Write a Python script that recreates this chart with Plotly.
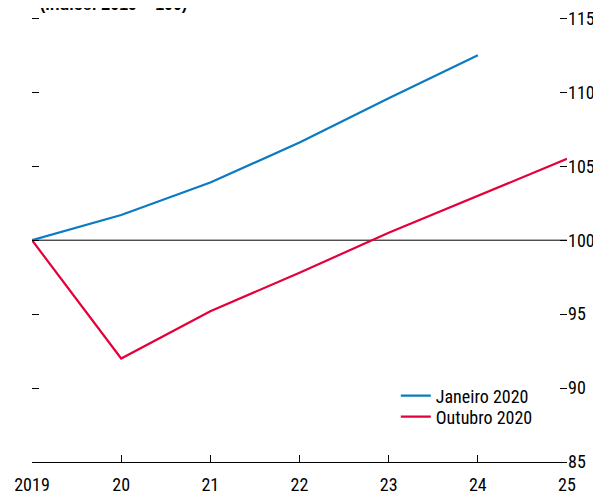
import plotly.graph_objects as go

years = [2019, 2020, 2021, 2022, 2023, 2024, 2025]
tick_labels = ["2019", "20", "21", "22", "23", "24", "25"]
jan_years = [2019, 2020, 2021, 2022, 2023, 2024]
jan_values = [100, 101.7, 103.9, 106.6, 109.6, 112.5]
out_years = [2019, 2020, 2021, 2022, 2023, 2024, 2025]
out_values = [100, 92.0, 95.2, 97.8, 100.5, 103.0, 105.5]
y_ticks = [85, 90, 95, 100, 105, 110, 115]

FONT = "Liberation Sans Narrow, Arial Narrow, Roboto Condensed, Liberation Sans, sans-serif"
TITLE_FONT = "Liberation Sans, Arial, sans-serif"
BLUE = "#0A7BC1"
RED = "#E4003A"

fig = go.Figure()
fig.add_trace(go.Scatter(x=jan_years, y=jan_values, mode="lines", name="Janeiro 2020",
                         line=dict(color=BLUE, width=2.2), legend="legend"))
fig.add_trace(go.Scatter(x=out_years, y=out_values, mode="lines", name="Outubro 2020",
                         line=dict(color=RED, width=2.2), legend="legend2"))
# dummy trace to activate left axis
fig.add_trace(go.Scatter(x=[years[0]], y=[100], yaxis="y2", mode="markers",
                         marker=dict(opacity=0), showlegend=False, hoverinfo="skip"))

fig.add_shape(type="line", xref="paper", yref="y", x0=0, x1=1, y0=100, y1=100,
              line=dict(color="black", width=1), layer="below")

yr = [85, 115.5]
leg_common = dict(xanchor="left", yanchor="top", bgcolor="rgba(0,0,0,0)",
                  font=dict(size=18), tracegroupgap=0, itemwidth=30)
fig.update_layout(
    width=601, height=493,
    margin=dict(l=24, r=42, t=3, b=39),
    paper_bgcolor="white", plot_bgcolor="white",
    font=dict(family=FONT, size=18, color="black"),
    showlegend=True,
    legend=dict(x=0.680, y=0.1876, **leg_common),
    legend2=dict(x=0.680, y=0.1876 - 21 / 451, **leg_common),
    xaxis=dict(range=[2019, 2025], tickvals=years, ticktext=tick_labels,
               ticks="inside", ticklen=7, tickcolor="black", tickwidth=1,
               showline=True, linecolor="black", linewidth=1, automargin=False,
               ticklabelstandoff=6, ticklabeloverflow="allow",
               showgrid=False, zeroline=False, fixedrange=True),
    yaxis=dict(range=yr, tickvals=y_ticks, side="right", automargin=False,
               ticks="inside", ticklen=7, tickcolor="black", tickwidth=1,
               ticklabeloverflow="allow",
               showline=False, showgrid=False, zeroline=False),
    yaxis2=dict(range=yr, tickvals=y_ticks, side="left", overlaying="y",
                ticks="inside", ticklen=7, tickcolor="black", tickwidth=1, automargin=False,
                showticklabels=False, showline=False, showgrid=False, zeroline=False),
    annotations=[dict(text="<b>(Índice: 2019 = 100)</b>", xref="paper", yref="paper",
                      x=0.012, y=1.015, xanchor="left", yanchor="middle",
                      showarrow=False, font=dict(size=16, family=TITLE_FONT))],
)

fig.write_html("out.html")
